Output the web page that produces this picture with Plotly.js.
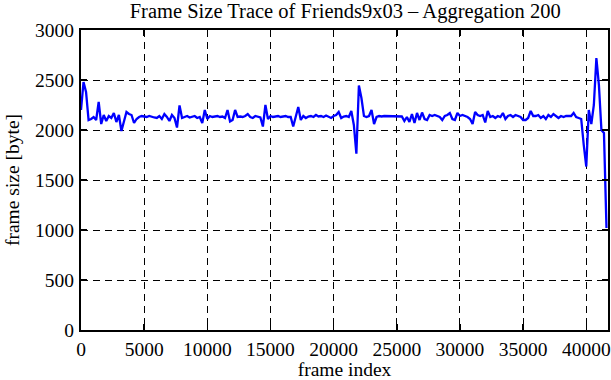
<!DOCTYPE html>
<html>
<head>
<meta charset="utf-8">
<script src="https://cdn.plot.ly/plotly-3.0.1.min.js"></script>
<style>html,body{margin:0;padding:0;background:#fff}#chart{width:611px;height:380px}</style>
</head>
<body>
<div id="chart"></div>
<script>
const titleText = "Frame Size Trace of Friends9x03 \u2013 Aggregation 200";
const xTitle = "frame index";
const yTitle = "frame size [byte]";
const aggregation = 200;
const xTicks = [0, 5000, 10000, 15000, 20000, 25000, 30000, 35000, 40000];
const yTicks = [0, 500, 1000, 1500, 2000, 2500, 3000];
const frameSize = [
  2200,2480,2380,2100,2110,2130,2100,2280,2060,
  2150,2090,2140,2120,2170,2080,2150,
  1990,2100,2180,2160,2150,2070,2110,
  2130,2140,2135,2130,2140,2130,2125,
  2120,2140,2110,2160,2130,2090,2150,2120,
  2025,2245,2120,
  2130,2140,2125,2135,2140,2120,2130,
  2070,2200,2110,
  2140,2130,2135,2140,2130,2135,2120,
  2200,2085,2100,2200,2130,
  2135,2130,2140,
  2160,
  2130,2120,2140,2130,2125,
  2035,2250,2110,
  2140,2130,2135,2140,2130,2135,2140,2130,2130,
  2035,2130,2230,2100,
  2140,2120,2135,
  2140,2130,2150,2135,2140,2130,2145,2130,2120,2140,
  2150,2180,2120,2135,2140,2130,2190,
  2050,1763,2445,2320,2140,
  2130,2140,2200,2060,
  2130,2140,2135,2140,2140,2135,2140,2140,2140,2140,2135,
  2090,2130,2080,2160,2070,2170,2100,2175,2110,2100,
  2150,2140,2150,2140,2130,2100,2140,2150,2170,
  2110,2100,2170,
  2140,2150,2140,2130,2110,2060,2180,
  2150,2140,2150,2075,2190,
  2130,2140,2120,2140,2130,2170,2110,
  2140,2150,2130,2150,2140,2130,2100,2100,2120,2190,2140,
  2140,2150,2120,2140,2110,2150,2130,2160,2140,2120,2140,2130,2140,2140,
  2140,2170,2130,2120,2110,1850,
  1635,2200,2060,2250,2720,2450,2000,1970,1020
];
const frameIndex = frameSize.map((_, i) => i * aggregation);

const font = "Liberation Serif, Times New Roman, serif";
const axisCommon = {
  showline: true, linecolor: "#000", linewidth: 2, mirror: "ticks",
  ticks: "inside", ticklen: 6, tickwidth: 1.5, tickcolor: "#000",
  showgrid: true, gridcolor: "#000", gridwidth: 1, griddash: "7px,5px",
  zeroline: false, tickfont: {family: font, size: 19.5, color: "#000"}
};

const trace = {
  x: frameIndex, y: frameSize, type: "scatter", mode: "lines",
  line: {color: "#0000ff", width: 2.3}, hoverinfo: "skip"
};

const layout = {
  width: 611, height: 380,
  margin: {l: 81, r: 3, t: 30, b: 50, pad: 0},
  paper_bgcolor: "#fff", plot_bgcolor: "#fff",
  showlegend: false,
  title: {text: titleText, font: {family: font, size: 20.5, color: "#000"}, x: 0.565, xanchor: "center", y: 0.972, yanchor: "middle"},
  xaxis: Object.assign({}, axisCommon, {
    range: [0, 41720], tickvals: xTicks, ticktext: xTicks.map(String),
    ticklabelstandoff: 1,
    title: {text: xTitle, font: {family: font, size: 19.5, color: "#000"}, standoff: 3}
  }),
  yaxis: Object.assign({}, axisCommon, {
    range: [0, 3000], tickvals: yTicks, ticktext: yTicks.map(String),
    ticklabelstandoff: 1,
    title: {text: yTitle, font: {family: font, size: 19.5, color: "#000"}, standoff: 10}
  })
};

Plotly.newPlot("chart", [trace], layout, {staticPlot: true, displayModeBar: false});
</script>
</body>
</html>
